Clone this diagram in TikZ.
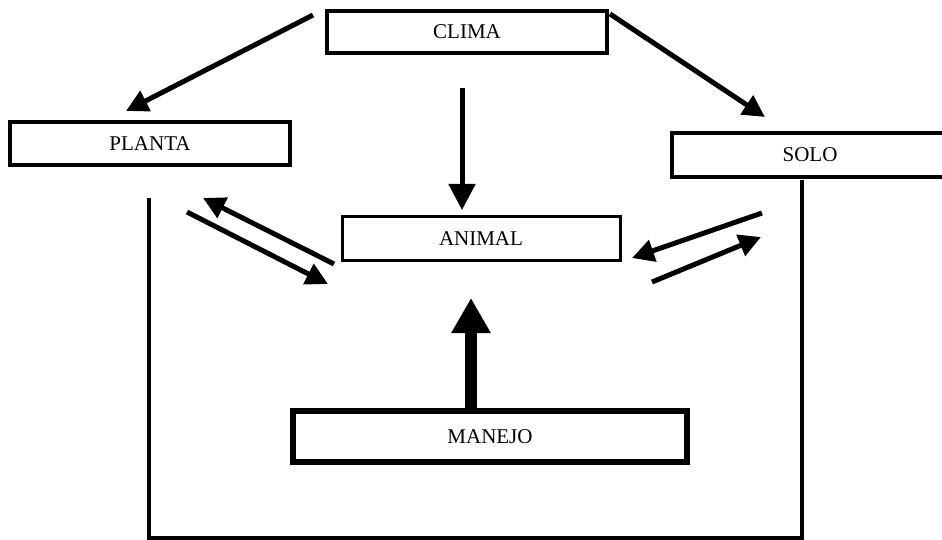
\documentclass[tikz,border=0pt]{standalone}
\usepackage{fontspec}
\setmainfont{Liberation Serif}
\usetikzlibrary{arrows.meta}
\begin{document}
\begin{tikzpicture}[x=1pt,y=-1pt,
  box/.style={draw, line width=4pt, fill=white, inner sep=0pt,
    font=\fontsize{21}{25}\selectfont},
  arr/.style={line width=5pt, -{Triangle[length=22pt,width=22pt]}},
  bigarr/.style={line width=12pt, -{Triangle[length=35pt,width=37pt]}},
  link/.style={line width=3.5pt}]
\useasboundingbox (0,0) rectangle (942,540);
\clip (0,0) rectangle (942,540);
\fill[white] (0,0) rectangle (942,540);
% boxes
\node[box, minimum width=280pt, minimum height=42pt] (clima) at (467,32) {CLIMA};
\node[box, minimum width=280pt, minimum height=43pt] (planta) at (150,143.5) {PLANTA};
\node[box, minimum width=276pt, minimum height=44pt] (solo) at (810,155) {SOLO};
\node[box, line width=3pt, minimum width=278pt, minimum height=43pt] (animal) at (481,238.5) {ANIMAL};
\node[box, line width=6pt, minimum width=394pt, minimum height=51pt] (manejo) at (490,436.5) {MANEJO};
% arrow end points
\coordinate (cp1) at (313,15);  \coordinate (cp2) at (126,111);
\coordinate (cs1) at (610,14);  \coordinate (cs2) at (765,117);
\coordinate (ca1) at (462,88);  \coordinate (ca2) at (462,210);
\coordinate (ap1) at (334,264); \coordinate (ap2) at (203,198);
\coordinate (pa1) at (187,212); \coordinate (pa2) at (328,284);
\coordinate (sa1) at (762,213); \coordinate (sa2) at (632,258);
\coordinate (as1) at (652,282); \coordinate (as2) at (761,237);
\coordinate (ma1) at (471,408); \coordinate (ma2) at (471,298);
\coordinate (l1) at (149,198); \coordinate (l2) at (149,538);
\coordinate (l3) at (802,538); \coordinate (l4) at (802,180);
% arrows
\draw[arr] (cp1) -- (cp2);
\draw[arr] (cs1) -- (cs2);
\draw[arr, -{Triangle[length=26pt,width=26pt]}] (ca1) -- (ca2);
\draw[arr] (ap1) -- (ap2);
\draw[arr] (pa1) -- (pa2);
\draw[arr] (sa1) -- (sa2);
\draw[arr] (as1) -- (as2);
\draw[bigarr] (ma1) -- (ma2);
\draw[link] (l1) -- (l2) -- (l3) -- (l4);
\end{tikzpicture}
\end{document}
